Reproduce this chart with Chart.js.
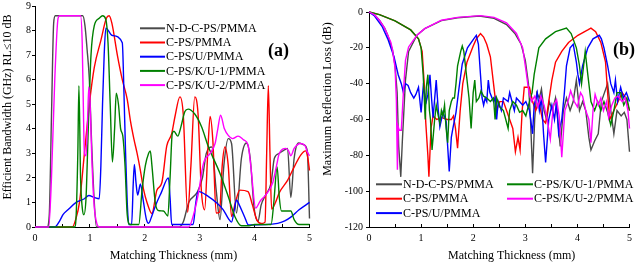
<!DOCTYPE html>
<html>
<head>
<meta charset="utf-8">
<script src="https://cdn.jsdelivr.net/npm/chart.js@4.4.1/dist/chart.umd.min.js"></script>
<style>
    html, body { margin: 0; padding: 0; background: #fff; }
    #wrap { position: relative; width: 640px; height: 264px; }
    .panel { position: absolute; top: 0; width: 320px; height: 264px; }
    #panel-a { left: 0; }
    #panel-b { left: 320px; }
</style>
</head>
<body>
<div id="wrap">
    <div class="panel" id="panel-a"><canvas id="chart-bandwidth" width="320" height="264"></canvas></div>
    <div class="panel" id="panel-b"><canvas id="chart-reflection" width="320" height="264"></canvas></div>
</div>
<script>
const seriesNames = ['N-D-C-PS/PMMA', 'C-PS/PMMA', 'C-PS/U/PMMA', 'C-PS/K/U-1/PMMA', 'C-PS/K/U-2/PMMA'];
const seriesColors = ['#4a4a4a', '#ff0000', '#0000ff', '#008000', '#ff00ff'];

const thicknessMarks = [0, 0.5, 1, 1.5, 2, 2.5, 3, 3.5, 4, 4.5, 5];
const bandwidthMarks = [0, 1, 2, 3, 4, 5, 6, 7, 8, 9];
const lossMarks = [-120, -100, -80, -60, -40, -20, 0];

// (a) efficient bandwidth, [thickness mm, GHz]
const bandwidthNDC = [[0,0],[0.22,0],[0.26,0.5],[0.3,4.5],[0.34,8.3],[0.37,8.6],[0.87,8.6],[0.91,8.2],[0.95,7.2],[0.99,6.0],[1.03,3.5],[1.08,1.0],[1.12,0],[2.62,0],[2.7,0.2],[2.8,1.0],[2.95,1.4],[3.05,2.0],[3.12,3.0],[3.22,3.26],[3.3,1.5],[3.37,0.3],[3.44,2.5],[3.52,3.6],[3.58,3.4],[3.67,0.57],[3.76,2.8],[3.85,3.42],[3.92,2.8],[3.99,0.8],[4.06,0.23],[4.12,0.9],[4.2,1.3],[4.3,1.8],[4.36,2.8],[4.45,3.0],[4.55,3.15],[4.6,3.2],[4.66,1.2],[4.72,2.8],[4.8,3.42],[4.9,3.35],[4.96,3.1],[5.0,0.35]];
const bandwidthCPS = [[0,0],[0.68,0],[0.74,0.3],[0.81,1.0],[0.9,3.0],[0.99,5.0],[1.08,6.5],[1.2,7.6],[1.3,8.5],[1.35,8.6],[1.4,8.3],[1.5,7.0],[1.59,6.0],[1.68,5.2],[1.74,4.3],[1.8,3.6],[1.86,3.0],[1.92,2.3],[1.98,1.5],[2.04,1.0],[2.13,0.55],[2.22,1.5],[2.31,1.8],[2.4,3.3],[2.49,3.8],[2.55,4.5],[2.64,5.3],[2.7,4.6],[2.78,0.6],[2.84,2.5],[2.91,5.3],[2.97,4.6],[3.03,1.5],[3.09,0.7],[3.15,3.2],[3.19,4.5],[3.24,3.5],[3.3,0.57],[3.36,0.6],[3.41,2.5],[3.46,3.26],[3.52,2.5],[3.58,0.43],[3.65,1.0],[3.73,1.5],[3.88,1.44],[3.96,0.9],[4.04,0.3],[4.12,0.14],[4.19,0.2],[4.22,3.0],[4.25,5.75],[4.28,3.0],[4.31,0.73],[4.38,1.0],[4.45,1.4],[4.6,1.9],[4.72,2.44],[4.84,2.93],[4.93,3.1],[4.97,2.8],[5.0,2.3]];
const bandwidthCPSU = [[0,0],[0.36,0],[0.45,0.25],[0.51,0.5],[0.6,0.7],[0.75,1.0],[0.9,1.15],[0.98,1.28],[1.08,1.2],[1.17,1.15],[1.2,2.5],[1.23,5.0],[1.26,7.0],[1.29,8.1],[1.41,7.8],[1.59,7.5],[1.62,5.5],[1.65,3.0],[1.68,1.0],[1.71,0.1],[1.76,0.1],[1.79,1.8],[1.81,2.55],[1.84,1.8],[1.87,1.3],[1.92,1.75],[1.97,1.1],[2.03,0.3],[2.07,0.15],[2.12,0.4],[2.2,0.9],[2.3,1.4],[2.43,2.0],[2.46,1.2],[2.49,0.1],[2.88,0.1],[2.93,1.0],[2.97,1.45],[3.16,1.24],[3.3,1.0],[3.43,0.7],[3.52,0.35],[3.58,0.2],[3.63,0.7],[3.67,1.1],[3.72,0.9],[3.82,0.4],[3.89,0.08],[4.42,0.15],[4.55,0.25],[4.66,0.4],[4.81,0.7],[5.0,1.0]];
const bandwidthKU1 = [[0,0],[0.72,0],[0.75,0.5],[0.78,3.0],[0.8,5.75],[0.83,2.0],[0.86,0.8],[0.89,0.5],[0.93,1.2],[0.97,4.0],[1.02,7.0],[1.08,8.2],[1.17,8.5],[1.23,8.6],[1.29,8.45],[1.33,7.5],[1.37,5.0],[1.41,2.65],[1.45,4.0],[1.48,5.45],[1.52,5.0],[1.56,4.0],[1.6,3.7],[1.64,2.5],[1.68,0.5],[1.73,0.1],[1.89,0.1],[1.95,1.5],[2.01,2.5],[2.07,3.0],[2.1,3.1],[2.13,2.5],[2.19,1.0],[2.24,0.68],[2.34,0.65],[2.42,0.45],[2.46,2.0],[2.5,3.8],[2.53,3.9],[2.6,3.7],[2.66,4.1],[2.73,4.7],[2.79,4.8],[2.91,4.6],[3.03,4.1],[3.16,3.26],[3.37,2.18],[3.52,1.24],[3.64,0.43],[3.76,0.05],[3.9,0.05],[4.0,0.1],[4.3,0.1],[4.35,1.0],[4.41,2.45],[4.45,1.2],[4.49,0.65],[4.66,0.65],[4.72,0.3],[4.81,0.1],[5.0,0.1]];
const bandwidthKU2 = [[0,0],[0.25,0],[0.3,2],[0.36,6],[0.42,8.5],[0.45,8.6],[0.83,8.6],[0.86,7.5],[0.88,5.0],[0.9,3.0],[0.93,2.9],[0.96,4.5],[0.98,5.7],[1.0,5.2],[1.04,2.5],[1.08,0.8],[1.12,0.2],[1.17,0],[2.8,0],[2.9,0.6],[2.97,1.3],[3.07,2.6],[3.19,3.0],[3.28,3.4],[3.33,4.0],[3.38,4.55],[3.45,4.0],[3.52,3.73],[3.6,3.6],[3.7,3.7],[3.8,3.55],[3.88,3.35],[3.93,2.5],[4.02,0.77],[4.1,1.05],[4.2,1.3],[4.33,1.8],[4.4,2.5],[4.45,3.0],[4.57,3.2],[4.62,3.1],[4.66,2.9],[4.72,3.2],[4.84,3.4],[4.92,3.3],[4.96,3.06],[5.0,2.9]];

// (b) maximum reflection loss, [thickness mm, dB]
const lossNDC = [[0,0],[0.1,-1.5],[0.2,-4.6],[0.3,-9],[0.36,-13],[0.45,-21],[0.5,-30],[0.54,-45],[0.57,-75],[0.61,-92],[0.64,-72],[0.67,-55],[0.7,-38],[0.76,-22],[0.92,-13],[1.07,-9.3],[1.39,-4.8],[1.7,-3.2],[2.12,-2.2],[2.4,-3.5],[2.64,-7],[2.8,-12],[2.92,-18],[3.0,-27],[3.06,-40],[3.1,-60],[3.14,-90],[3.18,-60],[3.22,-45],[3.27,-48],[3.31,-43],[3.36,-55],[3.41,-60],[3.46,-50],[3.52,-55],[3.58,-48],[3.63,-62],[3.67,-75],[3.73,-55],[3.79,-48],[3.86,-55],[3.92,-50],[3.98,-38],[4.04,-55],[4.1,-50],[4.16,-55],[4.22,-70],[4.26,-77],[4.33,-72],[4.4,-68],[4.46,-50],[4.52,-45],[4.58,-40],[4.64,-55],[4.7,-68],[4.76,-55],[4.84,-58],[4.9,-56],[4.95,-60],[5.0,-78]];
const lossCPS = [[0,0],[0.2,-1.5],[0.5,-5],[0.8,-10],[0.95,-15],[1.02,-22],[1.06,-40],[1.09,-62],[1.13,-80],[1.15,-92],[1.19,-65],[1.23,-58],[1.3,-60],[1.4,-59],[1.5,-60],[1.58,-60],[1.62,-58],[1.66,-65],[1.7,-76],[1.75,-55],[1.8,-40],[1.88,-28],[2.0,-19],[2.06,-15],[2.14,-12],[2.2,-14],[2.26,-18],[2.33,-25],[2.39,-40],[2.45,-55],[2.51,-50],[2.58,-50],[2.64,-55],[2.7,-60],[2.76,-65],[2.81,-78],[2.86,-70],[2.9,-77],[2.94,-55],[2.98,-42],[3.08,-42],[3.14,-50],[3.2,-55],[3.26,-50],[3.33,-60],[3.39,-62],[3.45,-50],[3.51,-38],[3.58,-28],[3.7,-22],[3.83,-17],[4.01,-13],[4.2,-10],[4.26,-9],[4.35,-11],[4.45,-17],[4.54,-28],[4.58,-45],[4.62,-60],[4.7,-55],[4.78,-50],[4.86,-45],[4.93,-48],[5.0,-55]];
const lossCPSU = [[0,0],[0.1,-2],[0.25,-8],[0.36,-15],[0.48,-25],[0.56,-35],[0.62,-40],[0.66,-45],[0.7,-40],[0.75,-41],[0.8,-45],[0.86,-48],[0.9,-46],[0.95,-42],[1.0,-56],[1.04,-42],[1.1,-50],[1.13,-46],[1.17,-35],[1.2,-48],[1.23,-59],[1.29,-38],[1.33,-55],[1.36,-64],[1.42,-56],[1.48,-61],[1.51,-75],[1.54,-89],[1.58,-70],[1.61,-65],[1.67,-56],[1.73,-42],[1.79,-29],[1.89,-20],[2.01,-15],[2.06,-13],[2.1,-18],[2.14,-35],[2.17,-48],[2.2,-52],[2.23,-48],[2.26,-50],[2.29,-38],[2.32,-45],[2.39,-50],[2.42,-48],[2.45,-60],[2.48,-50],[2.54,-55],[2.58,-48],[2.67,-50],[2.7,-45],[2.79,-55],[2.83,-48],[2.89,-50],[2.95,-52],[3.01,-50],[3.08,-55],[3.14,-68],[3.17,-52],[3.23,-45],[3.27,-55],[3.31,-48],[3.35,-68],[3.39,-84],[3.45,-60],[3.51,-52],[3.56,-60],[3.6,-50],[3.64,-68],[3.7,-60],[3.75,-45],[3.79,-30],[3.86,-20],[3.92,-18],[3.98,-28],[4.01,-35],[4.04,-40],[4.1,-30],[4.2,-20],[4.3,-15],[4.42,-13],[4.46,-15],[4.51,-20],[4.58,-30],[4.64,-40],[4.7,-45],[4.73,-38],[4.77,-50],[4.83,-42],[4.88,-48],[4.94,-45],[5.0,-50]];
const lossKU1 = [[0,0],[0.2,-1.5],[0.5,-5],[0.8,-10],[0.95,-15],[1.0,-20],[1.04,-35],[1.08,-60],[1.1,-42],[1.13,-35],[1.16,-55],[1.18,-60],[1.21,-77],[1.26,-60],[1.29,-52],[1.33,-58],[1.36,-62],[1.39,-55],[1.42,-58],[1.45,-52],[1.48,-65],[1.51,-73],[1.54,-55],[1.58,-50],[1.61,-48],[1.64,-48],[1.67,-40],[1.7,-30],[1.76,-22],[1.79,-19],[1.82,-22],[1.87,-35],[1.92,-48],[1.96,-65],[2.0,-45],[2.03,-38],[2.06,-50],[2.11,-48],[2.15,-44],[2.2,-47],[2.26,-48],[2.33,-50],[2.39,-48],[2.42,-60],[2.45,-48],[2.51,-53],[2.58,-55],[2.67,-65],[2.7,-55],[2.76,-50],[2.83,-52],[2.89,-56],[2.95,-55],[3.01,-58],[3.08,-50],[3.13,-45],[3.17,-35],[3.26,-20],[3.39,-15],[3.58,-11],[3.79,-9],[3.88,-12],[3.98,-20],[4.04,-30],[4.08,-40],[4.15,-22],[4.2,-35],[4.26,-50],[4.33,-55],[4.39,-50],[4.45,-55],[4.51,-50],[4.58,-56],[4.64,-63],[4.7,-55],[4.76,-45],[4.83,-45],[4.89,-52],[4.95,-48],[5.0,-55]];
const lossKU2 = [[0,0],[0.1,-1.5],[0.2,-4.6],[0.3,-9],[0.36,-13],[0.42,-17],[0.45,-21],[0.5,-31],[0.525,-49],[0.545,-88],[0.56,-64],[0.58,-66],[0.62,-66],[0.66,-45],[0.7,-27],[0.76,-19.5],[0.92,-13],[1.07,-9.3],[1.39,-4.6],[1.7,-3],[2.14,-2],[2.4,-3],[2.64,-6],[2.83,-12],[2.95,-20],[3.01,-32],[3.07,-45],[3.12,-50],[3.18,-47],[3.24,-53],[3.3,-47],[3.36,-52],[3.42,-60],[3.48,-71],[3.54,-52],[3.6,-49],[3.65,-58],[3.7,-81],[3.76,-55],[3.81,-51],[3.87,-44],[3.94,-50],[4.0,-53],[4.06,-45],[4.1,-47],[4.16,-55],[4.22,-60],[4.26,-73],[4.3,-55],[4.34,-46],[4.4,-52],[4.45,-48],[4.5,-55],[4.56,-50],[4.6,-59],[4.66,-52],[4.72,-48],[4.78,-47],[4.86,-50],[4.92,-48],[4.97,-55],[5.0,-65]];

const serif = '"Liberation Serif", "Times New Roman", serif';

// axis titles, panel tag and the in-plot legend
function makeNotes(cfg) {
    return {
        id: 'figureNotes',
        afterDatasetsDraw(chart) {
            const ctx = chart.ctx;
            ctx.save();
            ctx.fillStyle = '#000';
            ctx.textBaseline = 'middle';

            ctx.font = '12px ' + serif;
            ctx.textAlign = 'center';
            cfg.titles.forEach(t => {
                ctx.save();
                ctx.translate(t.x, t.y);
                ctx.rotate(t.angle || 0);
                ctx.fillText(t.text, 0, 0);
                ctx.restore();
            });

            ctx.font = 'bold 18px ' + serif;
            ctx.textAlign = 'left';
            ctx.fillText(cfg.tag.text, cfg.tag.x, cfg.tag.y);

            const lg = cfg.legend;
            ctx.font = '12px ' + serif;
            chart.data.datasets.forEach((ds, i) => {
                const x = lg.x + Math.floor(i / lg.perColumn) * lg.colWidth;
                const y = lg.y + (i % lg.perColumn) * lg.rowHeight;
                ctx.strokeStyle = ds.borderColor;
                ctx.lineWidth = 2;
                ctx.beginPath();
                ctx.moveTo(x, y);
                ctx.lineTo(x + lg.lineLength, y);
                ctx.stroke();
                ctx.fillText(ds.label, x + lg.lineLength + 1, y + 0.5);
            });
            ctx.restore();
        }
    };
}

function thicknessAxis() {
    return {
        type: 'linear',
        min: 0,
        max: 5,
        afterBuildTicks: s => { s.ticks = thicknessMarks.map(v => ({ value: v })); },
        afterFit: s => { s.height = 37; },
        grid: { drawOnChartArea: false, tickLength: -3, color: '#000' },
        border: { color: '#000', width: 1 },
        ticks: {
            font: { family: serif, size: 10 },
            color: '#000',
            padding: 8,
            maxRotation: 0,
            autoSkip: false,
            callback: v => Number.isInteger(v) ? String(v) : ''
        }
    };
}

function valueAxis(min, max, marks, width, pad) {
    return {
        type: 'linear',
        min: min,
        max: max,
        afterBuildTicks: s => { s.ticks = marks.map(v => ({ value: v })); },
        afterFit: s => { s.width = width; },
        grid: { drawOnChartArea: false, tickLength: 3, color: '#000' },
        border: { color: '#000', width: 1 },
        ticks: { font: { family: serif, size: 10, lineHeight: 1 }, color: '#000', padding: pad }
    };
}

function buildPanel(canvasId, series, smooth, yAxis, padding, notes) {
    const datasets = series.map((pts, i) => ({
        label: seriesNames[i],
        data: pts.map(([x, y]) => ({ x: x, y: y })),
        borderColor: seriesColors[i],
        backgroundColor: seriesColors[i],
        borderWidth: 1.4,
        pointRadius: 0,
        cubicInterpolationMode: smooth ? 'monotone' : 'default',
        tension: 0,
        order: series.length - 1 - i,
        clip: 3
    }));

    const ctx = document.getElementById(canvasId).getContext('2d');
    return new Chart(ctx, {
        type: 'line',
        data: { datasets: datasets },
        options: {
            responsive: false,
            animation: false,
            parsing: true,
            layout: { padding: padding },
            plugins: { legend: { display: false }, tooltip: { enabled: false } },
            scales: { x: thicknessAxis(), y: yAxis }
        },
        plugins: [makeNotes(notes)]
    });
}

buildPanel('chart-bandwidth',
    [bandwidthNDC, bandwidthCPS, bandwidthCPSU, bandwidthKU1, bandwidthKU2],
    true,
    valueAxis(0, 9, bandwidthMarks, 35, 1),
    { top: 5, right: 8, bottom: 0, left: 0 },
    {
        titles: [
            { text: 'Matching Thickness (mm)', x: 173.5, y: 256 },
            { text: 'Efficient Bandwidth (GHz) RL\u226410 dB', x: 8, y: 107, angle: -Math.PI / 2 }
        ],
        tag: { text: '(a)', x: 268, y: 51 },
        legend: { x: 140, y: 28.3, rowHeight: 14.2, perColumn: 5, colWidth: 0, lineLength: 25 }
    });

buildPanel('chart-reflection',
    [lossNDC, lossCPS, lossCPSU, lossKU1, lossKU2],
    false,
    valueAxis(-120, 0, lossMarks, 49, 3),
    { top: 12, right: 4, bottom: 0, left: 0 },
    {
        titles: [
            { text: 'Matching Thickness (mm)', x: 191.7, y: 256 },
            { text: 'Maximum Reflection Loss (dB)', x: 8, y: 99, angle: -Math.PI / 2 }
        ],
        tag: { text: '(b)', x: 293, y: 50 },
        legend: { x: 56, y: 184.3, rowHeight: 14.4, perColumn: 3, colWidth: 131, lineLength: 26 }
    });
</script>
</body>
</html>
